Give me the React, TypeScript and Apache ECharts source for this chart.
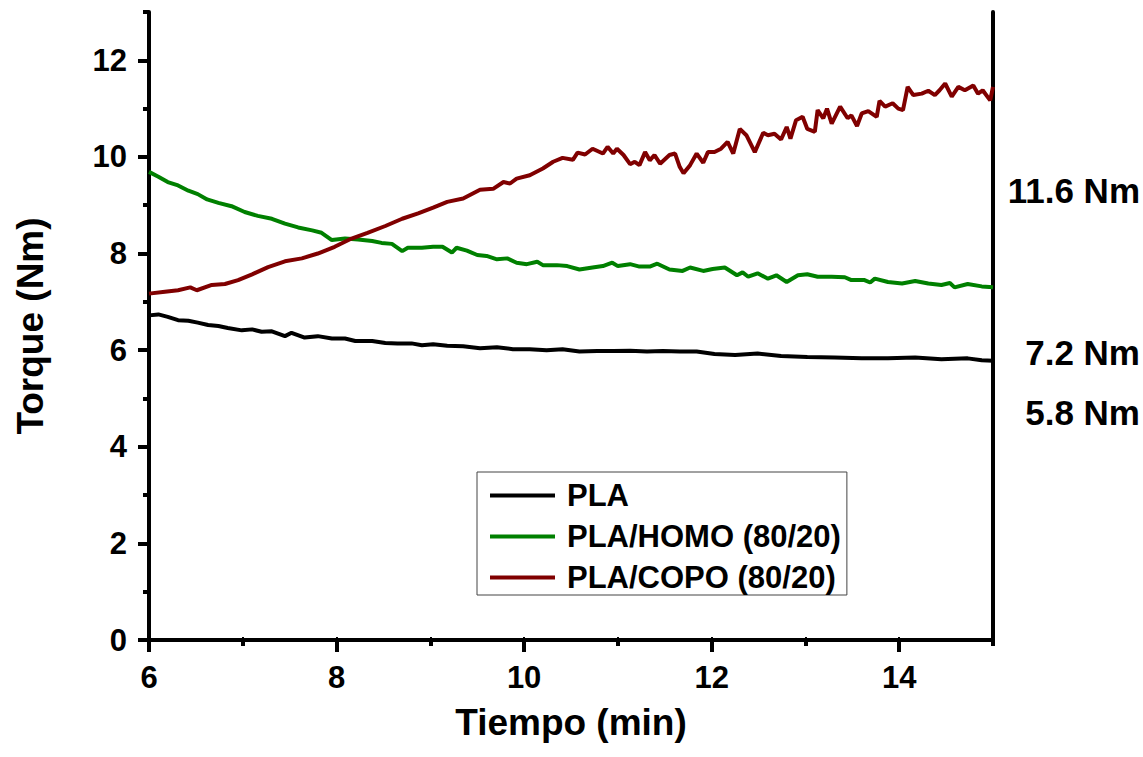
import React, { useEffect, useRef } from "react";
import * as echarts from "echarts";

const seriesNames = ["PLA", "PLA/HOMO (80/20)", "PLA/COPO (80/20)"];
const seriesColors = ["#000000", "#008000", "#800000"];

const plaTime = [6.0, 6.1, 6.2, 6.31, 6.42, 6.52, 6.63, 6.74, 6.84, 6.99, 7.1, 7.2, 7.31, 7.45, 7.52, 7.66, 7.8, 7.95, 8.09, 8.2, 8.38, 8.52, 8.65, 8.8, 8.91, 9.03, 9.18, 9.35, 9.53, 9.71, 9.88, 10.06, 10.24, 10.41, 10.59, 10.78, 10.95, 11.13, 11.31, 11.48, 11.66, 11.84, 12.03, 12.25, 12.49, 12.74, 13.02, 13.31, 13.6, 13.88, 14.17, 14.45, 14.73, 14.88, 15.0];
const plaTorque = [6.72, 6.74, 6.69, 6.62, 6.61, 6.57, 6.52, 6.5, 6.46, 6.41, 6.43, 6.38, 6.39, 6.29, 6.36, 6.26, 6.29, 6.24, 6.24, 6.19, 6.19, 6.15, 6.14, 6.14, 6.1, 6.12, 6.09, 6.08, 6.04, 6.06, 6.02, 6.02, 6.0, 6.02, 5.97, 5.98, 5.98, 5.99, 5.97, 5.98, 5.97, 5.97, 5.92, 5.9, 5.93, 5.88, 5.86, 5.85, 5.83, 5.83, 5.85, 5.81, 5.83, 5.79, 5.78];

const homoTime = [6.0, 6.1, 6.2, 6.31, 6.42, 6.52, 6.62, 6.74, 6.88, 7.02, 7.16, 7.31, 7.45, 7.59, 7.74, 7.84, 7.95, 8.09, 8.23, 8.38, 8.48, 8.59, 8.7, 8.76, 8.91, 9.03, 9.13, 9.23, 9.28, 9.39, 9.5, 9.6, 9.71, 9.82, 9.92, 10.03, 10.14, 10.2, 10.35, 10.46, 10.59, 10.73, 10.84, 10.94, 11.0, 11.13, 11.23, 11.34, 11.42, 11.55, 11.69, 11.77, 11.91, 12.01, 12.14, 12.27, 12.33, 12.39, 12.49, 12.6, 12.69, 12.8, 12.92, 13.02, 13.13, 13.28, 13.42, 13.49, 13.63, 13.69, 13.74, 13.88, 14.03, 14.17, 14.31, 14.45, 14.54, 14.59, 14.73, 14.88, 15.0];
const homoTorque = [9.69, 9.59, 9.48, 9.41, 9.3, 9.23, 9.12, 9.05, 8.98, 8.86, 8.78, 8.72, 8.62, 8.54, 8.48, 8.43, 8.28, 8.31, 8.29, 8.26, 8.22, 8.2, 8.05, 8.12, 8.12, 8.14, 8.14, 8.02, 8.12, 8.06, 7.97, 7.95, 7.88, 7.9, 7.81, 7.78, 7.83, 7.76, 7.76, 7.74, 7.67, 7.71, 7.74, 7.81, 7.74, 7.78, 7.73, 7.73, 7.79, 7.67, 7.64, 7.71, 7.64, 7.68, 7.71, 7.55, 7.61, 7.52, 7.59, 7.48, 7.55, 7.41, 7.55, 7.57, 7.52, 7.52, 7.51, 7.45, 7.45, 7.4, 7.48, 7.41, 7.38, 7.43, 7.38, 7.35, 7.39, 7.3, 7.37, 7.32, 7.3];

const copoTime = [6.0, 6.17, 6.31, 6.44, 6.51, 6.67, 6.81, 6.95, 7.1, 7.27, 7.45, 7.63, 7.8, 7.98, 8.16, 8.33, 8.52, 8.7, 8.87, 9.03, 9.18, 9.35, 9.53, 9.67, 9.78, 9.85, 9.92, 10.06, 10.2, 10.31, 10.41, 10.52, 10.57, 10.65, 10.73, 10.84, 10.89, 10.95, 10.99, 11.06, 11.13, 11.18, 11.23, 11.29, 11.34, 11.39, 11.45, 11.55, 11.61, 11.66, 11.7, 11.77, 11.84, 11.91, 11.96, 12.03, 12.1, 12.17, 12.23, 12.3, 12.37, 12.46, 12.55, 12.6, 12.67, 12.74, 12.8, 12.84, 12.9, 12.97, 13.02, 13.1, 13.13, 13.19, 13.23, 13.28, 13.37, 13.45, 13.49, 13.55, 13.6, 13.67, 13.76, 13.79, 13.85, 13.93, 13.99, 14.04, 14.09, 14.15, 14.24, 14.31, 14.38, 14.43, 14.49, 14.56, 14.63, 14.7, 14.79, 14.84, 14.89, 14.97, 15.0];
const copoTorque = [7.17, 7.21, 7.24, 7.3, 7.24, 7.35, 7.37, 7.45, 7.57, 7.72, 7.84, 7.9, 8.0, 8.14, 8.31, 8.43, 8.57, 8.72, 8.83, 8.95, 9.07, 9.14, 9.32, 9.34, 9.48, 9.45, 9.55, 9.62, 9.76, 9.9, 9.98, 9.94, 10.09, 10.05, 10.17, 10.07, 10.21, 10.07, 10.17, 10.04, 9.85, 9.9, 9.83, 10.1, 9.93, 10.04, 9.86, 10.04, 10.07, 9.79, 9.66, 9.83, 10.07, 9.88, 10.1, 10.1, 10.17, 10.31, 10.07, 10.58, 10.45, 10.1, 10.5, 10.45, 10.48, 10.36, 10.62, 10.38, 10.76, 10.83, 10.58, 10.52, 10.97, 10.8, 11.0, 10.69, 11.04, 10.8, 10.86, 10.64, 10.9, 10.95, 10.83, 11.16, 11.04, 11.11, 11.0, 10.97, 11.45, 11.28, 11.31, 11.37, 11.28, 11.38, 11.52, 11.25, 11.45, 11.38, 11.48, 11.31, 11.38, 11.17, 11.45];

const xMajorTicks = [6, 8, 10, 12, 14];
const xMinorTicks = [7, 9, 11, 13, 15];
const yMajorTicks = [0, 2, 4, 6, 8, 10, 12];
const yMinorTicks = [1, 3, 5, 7, 9, 11, 13];

const endLabels = [
  { text: "11.6 Nm", y: 190 },
  { text: "7.2 Nm", y: 352 },
  { text: "5.8 Nm", y: 412 },
];

const FONT = '"Liberation Sans", Arial, Helvetica, sans-serif';

function zip(xs: number[], ys: number[]) {
  return xs.map((x, i) => [x, ys[i]]);
}

export default function App() {
  const ref = useRef<HTMLDivElement>(null);
  useEffect(() => {
    if (!ref.current) return;
    const chart = echarts.init(ref.current, undefined, { renderer: "svg" });
    const axisLine = { show: true, lineStyle: { color: "#000", width: 4 } };
    const seriesData = [
      zip(plaTime, plaTorque),
      zip(homoTime, homoTorque),
      zip(copoTime, copoTorque),
    ];
    chart.setOption({
      animation: false,
      backgroundColor: "#fff",
      grid: { left: 149, right: 150, top: 12, bottom: 117, containLabel: false },
      legend: {
        orient: "vertical",
        left: 477,
        top: 472,
        data: seriesNames,
        icon: "rect",
        itemWidth: 65,
        itemHeight: 4,
        itemGap: 10,
        padding: [8, 6, 2, 13],
        borderColor: "#444",
        borderWidth: 1,
        backgroundColor: "#fff",
        textStyle: {
          fontFamily: FONT,
          fontWeight: "bold",
          fontSize: 31,
          lineHeight: 30,
          color: "#000",
          padding: [0, 0, 0, 7],
        },
      },
      xAxis: [
        {
          type: "value",
          position: "bottom",
          min: 6,
          max: 15,
          interval: 1,
          axisLine,
          splitLine: { show: false },
          axisTick: { show: true, customValues: xMajorTicks, length: 12, lineStyle: { width: 4, color: "#000" } },
          axisLabel: {
            customValues: xMajorTicks,
            margin: 22,
            fontFamily: FONT,
            fontWeight: "bold",
            fontSize: 31,
            color: "#000",
          },
          name: "Tiempo (min)",
          nameLocation: "middle",
          nameGap: 64,
          nameTextStyle: { fontFamily: FONT, fontWeight: "bold", fontSize: 37, color: "#000" },
        },
        {
          type: "value",
          position: "bottom",
          min: 6,
          max: 15,
          interval: 1,
          axisLine: { show: false },
          splitLine: { show: false },
          axisTick: { show: true, customValues: xMinorTicks, length: 6, lineStyle: { width: 4, color: "#000" } },
          axisLabel: { show: false },
        },
        {
          type: "value",
          position: "top",
          min: 6,
          max: 15,
          interval: 1,
          axisLine,
          splitLine: { show: false },
          axisTick: { show: true, length: 3, lineStyle: { width: 2, color: "#000" } },
          axisLabel: { show: false },
        },
      ],
      yAxis: [
        {
          type: "value",
          position: "left",
          min: 0,
          max: 13,
          interval: 1,
          axisLine,
          splitLine: { show: false },
          axisTick: { show: true, customValues: yMajorTicks, length: 11, lineStyle: { width: 4, color: "#000" } },
          axisLabel: {
            customValues: yMajorTicks,
            margin: 22,
            fontFamily: FONT,
            fontWeight: "bold",
            fontSize: 31,
            color: "#000",
          },
          name: "Torque (Nm)",
          nameLocation: "middle",
          nameGap: 100,
          nameRotate: 90,
          nameTextStyle: { fontFamily: FONT, fontWeight: "bold", fontSize: 37, color: "#000" },
        },
        {
          type: "value",
          position: "left",
          min: 0,
          max: 13,
          interval: 1,
          axisLine: { show: false },
          splitLine: { show: false },
          axisTick: { show: true, customValues: yMinorTicks, length: 6, lineStyle: { width: 4, color: "#000" } },
          axisLabel: { show: false },
        },
        {
          type: "value",
          position: "right",
          min: 0,
          max: 13,
          interval: 1,
          axisLine,
          splitLine: { show: false },
          axisTick: { show: false },
          axisLabel: { show: false },
        },
      ],
      series: seriesNames.map((name, i) => ({
        name,
        type: "line",
        xAxisIndex: 0,
        yAxisIndex: 0,
        data: seriesData[i],
        showSymbol: false,
        symbol: "none",
        lineStyle: { color: seriesColors[i], width: 4 },
        itemStyle: { color: seriesColors[i] },
        z: 3 + i,
      })),
      graphic: endLabels.map((l) => ({
        type: "text",
        x: 1140,
        y: l.y,
        style: {
          text: l.text,
          fill: "#000",
          font: `bold 35px ${FONT}`,
          textAlign: "right",
          textVerticalAlign: "middle",
        },
      })),
    });
    return () => chart.dispose();
  }, []);
  return (
    <div
      ref={ref}
      style={{ position: "fixed", left: 0, top: 0, width: 1143, height: 757, background: "#fff" }}
    />
  );
}
